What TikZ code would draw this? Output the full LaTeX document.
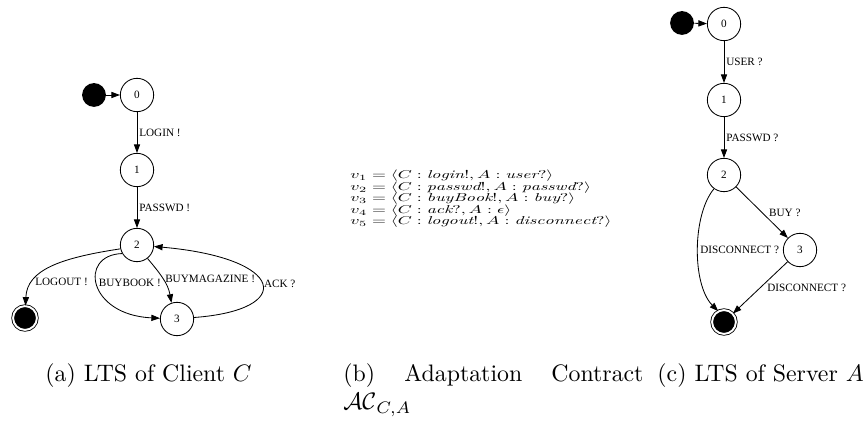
\documentclass[tikz,border=0pt]{standalone}
\usepackage{amsmath}
\usepackage{graphicx}
\usepackage{fontspec}
\newfontfamily\gvfont{Liberation Serif}
\usetikzlibrary{arrows.meta}
\tikzset{
  lstate/.style={circle,draw,line width=0.35pt,minimum size=14pt,inner sep=0pt,font=\gvfont\fontsize{4.7}{5.5}\selectfont},
  initdot/.style={circle,fill=black,minimum size=10pt,inner sep=0pt},
  finalnode/.style={circle,fill=black,draw,line width=0.35pt,double=white,double distance=0.8pt,minimum size=10pt,inner sep=0pt},
  trans/.style={-{Triangle[length=3.6pt,width=2.6pt]},line width=0.35pt},
  lbl/.style={font=\gvfont\fontsize{4.7}{5.5}\selectfont,inner sep=0.8pt},
  eqblock/.style={anchor=west,inner sep=0pt},
  capline/.style={anchor=base west,inner sep=0pt}
}

\begin{document}
\begin{tikzpicture}[x=0.42pt,y=-0.42pt]
\useasboundingbox (0,0) rectangle (865,437);

% (a) client
\node[initdot] (ci) at (94,95) {};
\node[lstate] (c0) at (137,95) {0};
\node[lstate] (c1) at (137,170) {1};
\node[lstate] (c2) at (137,245) {2};
\node[lstate] (c3) at (177,319) {3};
\node[finalnode] (cf) at (25,318) {};

\draw[trans] (ci) -- (c0);
\draw[trans] (c0) -- node[lbl,right]{LOGIN !} (c1);
\draw[trans] (c1) -- node[lbl,right]{PASSWD !} (c2);
\draw[trans] (c2.193) .. controls (60,258) and (27,270) .. node[lbl,pos=0.74,anchor=west]{LOGOUT !} (cf);
\draw[trans] (c2.210) .. controls (78,255) and (88,315) .. node[lbl,pos=0.47,anchor=west]{BUYBOOK !} (c3);
\draw[trans] (c2.-52) to[out=-50,in=100] node[lbl,pos=0.5,anchor=west]{BUYMAGAZINE !} (c3.109);
\draw[trans] (c3.5) .. controls (296,310) and (286,258) .. node[lbl,pos=0.5,anchor=west]{ACK ?} (c2.-5);

% (b) contract
\node[eqblock] (vs) at (350,199) {\scalebox{0.75}[0.48]{\renewcommand{\arraystretch}{0.7}$\begin{array}{@{}l@{}}
  v_1 = \langle C : \mathit{login}!, A : \mathit{user}?\rangle\\
  v_2 = \langle C : \mathit{passwd}!, A : \mathit{passwd}?\rangle\\
  v_3 = \langle C : \mathit{buyBook}!, A : \mathit{buy}?\rangle\\
  v_4 = \langle C : \mathit{ack}?, A : \epsilon\rangle\\
  v_5 = \langle C : \mathit{logout}!, A : \mathit{disconnect}?\rangle
\end{array}$}};

% (c) server
\node[initdot] (si) at (682,23) {};
\node[lstate] (s0) at (724,24) {0};
\node[lstate] (s1) at (724,100) {1};
\node[lstate] (s2) at (724,175) {2};
\node[lstate] (s3) at (800,250) {3};
\node[finalnode] (sf) at (724,322) {};

\draw[trans] (si) -- (s0);
\draw[trans] (s0) -- node[lbl,right]{USER ?} (s1);
\draw[trans] (s1) -- node[lbl,right]{PASSWD ?} (s2);
\draw[trans] (s2) -- node[lbl,anchor=west,xshift=2pt]{BUY ?} (s3);
\draw[trans] (s2.234) .. controls (692,215) and (692,285) .. node[lbl,pos=0.5,anchor=west]{DISCONNECT ?} (sf.118);
\draw[trans] (s3) -- node[lbl,anchor=west,xshift=2pt]{DISCONNECT ?} (sf);

% captions
\node[capline] (capa) at (45,381) {(a) LTS of Client $C$};
\node[capline] (capb) at (343,381) {\parbox[t]{126pt}{(b) Adaptation Contract $\mathcal{AC}_{C,A}$}};
\node[capline] (capc) at (657,381) {(c) LTS of Server $A$};
\end{tikzpicture}
\end{document}
